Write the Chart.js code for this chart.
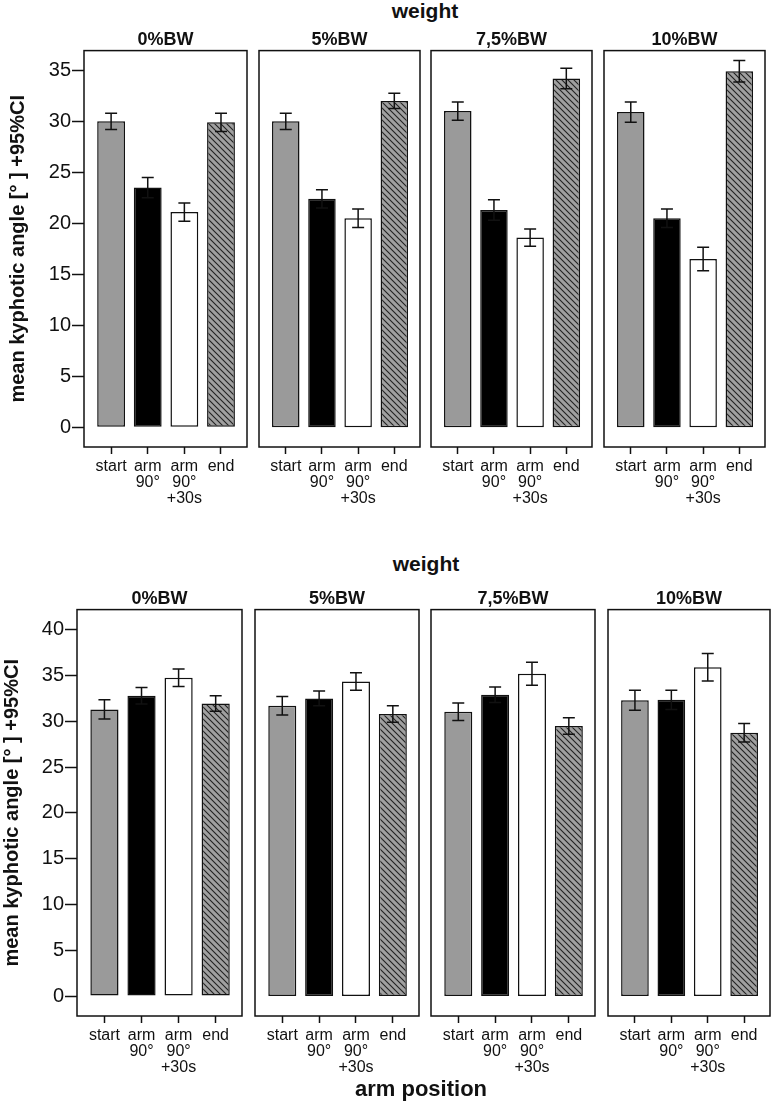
<!DOCTYPE html>
<html>
<head>
<meta charset="utf-8">
<script src="https://cdn.jsdelivr.net/npm/chart.js@4.4.1/dist/chart.umd.min.js"></script>
<style>
  body { margin: 0; background: #fff; width: 774px; height: 1105px; position: relative; overflow: hidden;
         font-family: 'Liberation Sans', Arial, sans-serif; }
  canvas { position: absolute; }
  .lbl { position: absolute; font-weight: bold; color: #111; transform: translate(-50%, -50%); white-space: nowrap; z-index: 2; }
</style>
</head>
<body>
<div class="lbl" style="left:425px; top:11px; font-size:21px;">weight</div>
<div class="lbl" style="left:426px; top:564px; font-size:21px;">weight</div>
<div class="lbl" style="left:421px; top:1089px; font-size:22px;">arm position</div>

<script>
// categories / panels
const armPositions = [['start'], ['arm', '90°'], ['arm', '90°', '+30s'], ['end']];
const weightLevels = ['0%BW', '5%BW', '7,5%BW', '10%BW'];
const yTicksTop = [0, 5, 10, 15, 20, 25, 30, 35];
const yTicksBottom = [0, 5, 10, 15, 20, 25, 30, 35, 40];
const yTitle = 'mean kyphotic angle [° ] +95%CI';

// upper figure: mean and half-width of 95% CI, one row per weight
const topMeans = [
  [30.0, 23.5, 21.1, 29.9],
  [30.0, 22.4, 20.5, 32.0],
  [31.0, 21.3, 18.6, 34.2],
  [30.9, 20.5, 16.5, 34.9],
];
const topCI = [
  [0.8, 1.0, 0.9, 0.9],
  [0.8, 0.9, 0.9, 0.75],
  [0.9, 1.0, 0.85, 1.0],
  [1.0, 0.9, 1.15, 1.05],
];

// lower figure
const bottomMeans = [
  [31.3, 32.8, 34.75, 31.95],
  [31.7, 32.5, 34.35, 30.8],
  [31.05, 32.9, 35.2, 29.5],
  [32.3, 32.35, 35.9, 28.75],
];
const bottomCI = [
  [1.05, 0.9, 0.95, 0.85],
  [1.0, 0.8, 0.95, 0.9],
  [0.95, 0.85, 1.25, 0.9],
  [1.1, 1.05, 1.5, 1.0],
];

Chart.defaults.font.family = "'Liberation Sans', Arial, sans-serif";
Chart.defaults.color = '#111';

function makeHatch() {
  const c = document.createElement('canvas');
  c.width = 6; c.height = 6;
  const g = c.getContext('2d');
  g.fillStyle = '#a0a0a0';
  g.fillRect(0, 0, 6, 6);
  g.strokeStyle = '#222';
  g.lineWidth = 1.1;
  g.beginPath();
  g.moveTo(-1, -1); g.lineTo(7, 7);
  g.moveTo(-1, 5); g.lineTo(1, 7);
  g.moveTo(5, -1); g.lineTo(7, 1);
  g.stroke();
  return g.createPattern(c, 'repeat');
}

// box round the plot area
const framePlugin = {
  id: 'frame',
  afterDraw(chart) {
    const { ctx, chartArea: a } = chart;
    ctx.save();
    ctx.strokeStyle = '#111';
    ctx.lineWidth = 1.5;
    ctx.strokeRect(a.left, a.top, a.right - a.left, a.bottom - a.top);
    ctx.restore();
  }
};

// 95% CI whiskers
const errorBarPlugin = {
  id: 'errorBars',
  afterDatasetsDraw(chart, args, opts) {
    const { ctx } = chart;
    const y = chart.scales.y;
    const data = chart.data.datasets[0].data;
    ctx.save();
    ctx.strokeStyle = '#111';
    ctx.lineWidth = 1.5;
    chart.getDatasetMeta(0).data.forEach((bar, i) => {
      const v = data[i].y, e = opts.ci[i];
      const t = y.getPixelForValue(v + e), b = y.getPixelForValue(v - e);
      ctx.beginPath();
      ctx.moveTo(bar.x, t); ctx.lineTo(bar.x, b);
      ctx.moveTo(bar.x - 6, t); ctx.lineTo(bar.x + 6, t);
      ctx.moveTo(bar.x - 6, b); ctx.lineTo(bar.x + 6, b);
      ctx.stroke();
    });
    ctx.restore();
  }
};

const rows = [
  { top: 29, height: 488, yMin: -1.93, yMax: 36.93, ticks: yTicksTop, means: topMeans, ci: topCI,
    titlePad: 6,
    panels: [[0, 249, 84], [255, 167, 2], [427, 167, 2], [600, 167, 2]] },
  { top: 588, height: 498, yMin: -2.18, yMax: 42.2, ticks: yTicksBottom, means: bottomMeans, ci: bottomCI,
    titlePad: 0,
    panels: [[0, 244, 77], [251, 170, 2], [427, 170, 2], [604, 168, 2]] },
];

rows.forEach((row, r) => {
  row.panels.forEach(([left, width, inset], p) => {
    const cv = document.createElement('canvas');
    cv.width = width; cv.height = row.height;
    cv.style.left = left + 'px'; cv.style.top = row.top + 'px';
    cv.style.width = width + 'px'; cv.style.height = row.height + 'px';
    document.body.appendChild(cv);
    const hatch = makeHatch();
    const first = p === 0;

    new Chart(cv, {
      type: 'bar',
      data: {
        datasets: [{
          data: row.means[p].map((v, i) => ({ x: i, y: v })),
          backgroundColor: ['#9a9a9a', '#000000', '#ffffff', hatch],
          borderColor: '#111',
          borderWidth: 1.5,
          borderSkipped: false,
          barPercentage: 0.76,
          categoryPercentage: 1,
        }],
      },
      options: {
        responsive: false,
        animation: false,
        devicePixelRatio: 1,
        layout: { padding: { left: first ? 0 : inset, right: 2, top: 0, bottom: 0 } },
        plugins: {
          legend: { display: false },
          tooltip: { enabled: false },
          title: {
            display: true, text: weightLevels[p], fullSize: false,
            font: { size: 18, weight: 'bold' }, color: '#111',
            padding: { top: 0, bottom: 0 },
          },
          errorBars: { ci: row.ci[p] },
        },
        scales: {
          x: {
            type: 'linear', min: -0.74, max: 3.71, offset: false,
            grid: { drawOnChartArea: false, drawTicks: true, tickLength: 7, tickColor: '#111', tickWidth: 1.5, offset: false },
            border: { display: false },
            afterBuildTicks: (axis) => { axis.ticks = armPositions.map((_, i) => ({ value: i })); },
            afterFit: (axis) => { axis.height = 70; },
            ticks: {
              autoSkip: false, maxRotation: 0, minRotation: 0, padding: 4,
              font: { size: 16, lineHeight: 1.02 }, color: '#111',
              callback: (v) => armPositions[v],
            },
          },
          y: {
            display: first,
            min: row.yMin, max: row.yMax,
            grid: { drawOnChartArea: false, drawTicks: true, tickLength: 12, tickColor: '#111', tickWidth: 1.5 },
            border: { display: false },
            afterBuildTicks: (axis) => { axis.ticks = row.ticks.map(v => ({ value: v })); },
            afterFit: (axis) => { axis.width = inset; },
            ticks: { padding: 1, font: { size: 20 }, color: '#111' },
            title: {
              display: true, text: yTitle,
              font: { size: 20, weight: 'bold' }, color: '#111',
              padding: { top: row.titlePad, bottom: 0 },
            },
          },
        },
      },
      plugins: [errorBarPlugin, framePlugin],
    });
  });
});
</script>
</body>
</html>
